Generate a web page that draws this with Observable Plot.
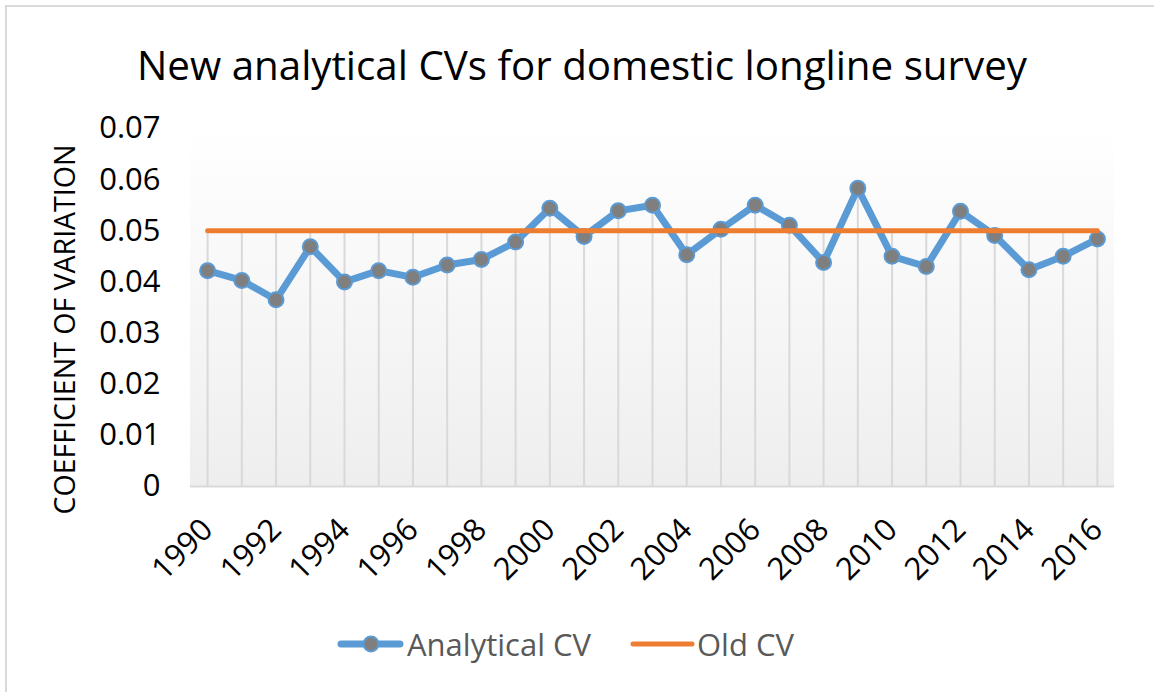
<!DOCTYPE html>
<html>
<head>
<meta charset="utf-8">
<script src="https://cdn.jsdelivr.net/npm/d3@7"></script>
<script src="https://cdn.jsdelivr.net/npm/@observablehq/plot@0.6"></script>
<style>
  html, body { margin: 0; padding: 0; background: #fff; overflow: hidden; width: 1154px; height: 692px; }
  #wrap { position: relative; width: 1154px; height: 692px; font-family: "Open Sans", sans-serif; }
  #border { position: absolute; left: 5px; top: 5px; width: 1300px; height: 800px; border: 2px solid #d9d9d9; box-sizing: border-box; }
  #title { position: absolute; left: 0; top: 20px; }
  #chart { position: absolute; left: 0; top: 100px; }
  #chart svg { overflow: visible; }
  .leg { position: absolute; top: 620px; height: 48px; }
  .legtext { position: absolute; top: 620px; font-size: 31px; color: #595959; line-height: 48px; white-space: nowrap; }
</style>
</head>
<body>
<div id="wrap">
  <div id="border"></div>
  <svg id="title" width="1154" height="80">
    <text x="582" y="60" text-anchor="middle" font-family="Open Sans" font-size="40" fill="#000" textLength="890" lengthAdjust="spacingAndGlyphs">New analytical CVs for domestic longline survey</text>
  </svg>
  <div id="chart"></div>
  <svg class="leg" style="left:336px" width="70" height="48">
    <line x1="5" y1="24" x2="64" y2="24" stroke="#5B9BD5" stroke-width="7" stroke-linecap="round"></line>
    <circle cx="35" cy="24" r="7.5" fill="#7f7f7f" stroke="#5B9BD5" stroke-width="2"></circle>
  </svg>
  <div class="legtext" style="left:407px">Analytical CV</div>
  <svg class="leg" style="left:628px" width="70" height="48">
    <line x1="5" y1="24" x2="64" y2="24" stroke="#ED7D31" stroke-width="5" stroke-linecap="round"></line>
  </svg>
  <div class="legtext" style="left:697px">Old CV</div>
</div>
<script>
const years = [1990, 1991, 1992, 1993, 1994, 1995, 1996, 1997, 1998, 1999, 2000, 2001, 2002, 2003, 2004, 2005, 2006, 2007, 2008, 2009, 2010, 2011, 2012, 2013, 2014, 2015, 2016];
const analyticalCV = [0.0422, 0.0403, 0.0365, 0.0469, 0.0400, 0.0422, 0.0409, 0.0433, 0.0444, 0.0478, 0.0544, 0.0489, 0.0539, 0.0550, 0.0453, 0.0503, 0.0550, 0.0511, 0.0438, 0.0583, 0.0450, 0.0430, 0.0538, 0.0491, 0.0424, 0.0450, 0.0484];
const oldCV = 0.05;
const xTicks = [1990, 1992, 1994, 1996, 1998, 2000, 2002, 2004, 2006, 2008, 2010, 2012, 2014, 2016];
const yTicks = [0, 0.01, 0.02, 0.03, 0.04, 0.05, 0.06, 0.07];
const yLabel = "COEFFICIENT OF VARIATION";

const data = years.map((year, i) => ({year, a: analyticalCV[i], old: oldCV}));

function gradientBackground(index, scales, values, dims) {
  const g = d3.create("svg:g");
  const defs = g.append("defs");
  const lg = defs.append("linearGradient").attr("id", "bggrad").attr("x1", 0).attr("y1", 0).attr("x2", 0).attr("y2", 1);
  lg.append("stop").attr("offset", "0%").attr("stop-color", "#ffffff");
  lg.append("stop").attr("offset", "100%").attr("stop-color", "#eeeeee");
  g.append("rect")
    .attr("x", dims.marginLeft)
    .attr("y", dims.marginTop)
    .attr("width", dims.width - dims.marginLeft - dims.marginRight)
    .attr("height", dims.height - dims.marginTop - dims.marginBottom)
    .attr("fill", "url(#bggrad)");
  return g.node();
}

const chart = Plot.plot({
  width: 1154,
  height: 500,
  marginLeft: 190,
  marginRight: 40,
  marginTop: 28,
  marginBottom: 114,
  style: {fontFamily: "Open Sans", color: "#000", background: "transparent", overflow: "visible"},
  x: {domain: [1989.5, 2016.5]},
  y: {domain: [0, 0.07]},
  marks: [
    gradientBackground,
    Plot.ruleX(data, {x: "year", y1: 0, y2: d => Math.max(d.a, d.old), stroke: "#d9d9d9", strokeWidth: 2}),
    Plot.ruleY([0], {stroke: "#d9d9d9", strokeWidth: 2}),
    Plot.axisY({ticks: yTicks, tickSize: 0, tickPadding: 30, fontSize: 31, tickFormat: d => d === 0 ? "0" : d3.format(".2f")(d), label: null}),
    Plot.axisX({ticks: xTicks, tickSize: 0, tickPadding: 38, tickRotate: -45, fontSize: 31, tickFormat: d => String(d), label: null}),
    Plot.text([yLabel], {frameAnchor: "left", textAnchor: "middle", dx: -125, dy: 22, rotate: -90, fontSize: 28.5, fill: "#000"}),
    Plot.line(data, {x: "year", y: "a", stroke: "#5B9BD5", strokeWidth: 7, strokeLinejoin: "round", strokeLinecap: "round"}),
    Plot.dot(data, {x: "year", y: "a", r: 7.5, fill: "#7f7f7f", stroke: "#5B9BD5", strokeWidth: 2}),
    Plot.line(data, {x: "year", y: "old", stroke: "#ED7D31", strokeWidth: 5, strokeLinecap: "round"})
  ]
});
document.getElementById("chart").appendChild(chart);
</script>
</body>
</html>
